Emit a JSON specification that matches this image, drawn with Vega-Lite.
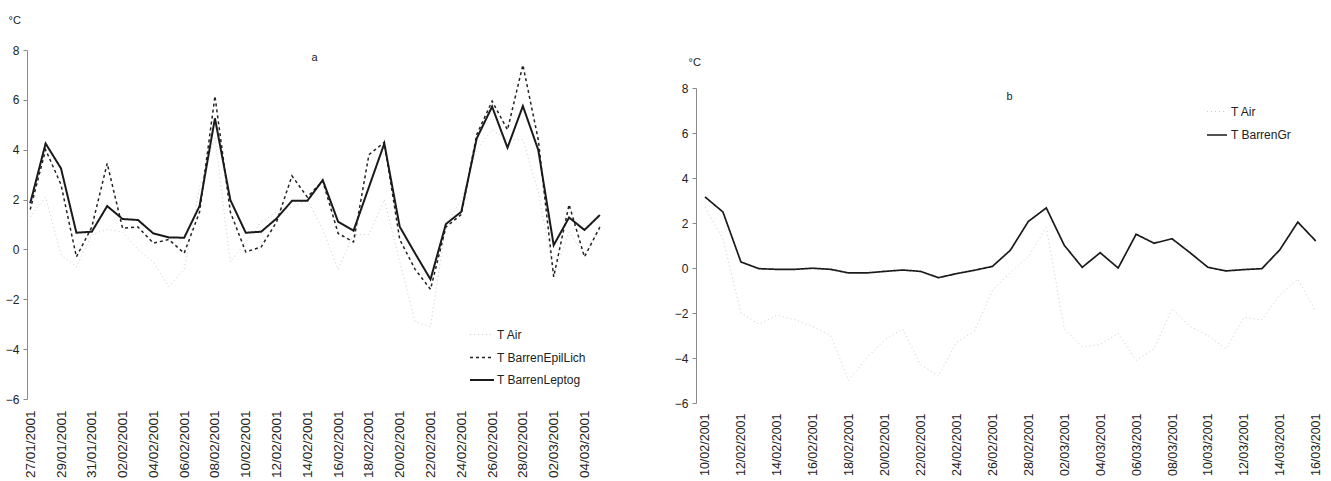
{
  "$schema": "https://vega.github.io/schema/vega-lite/v6.json",
  "background": "white",
  "padding": {"left": 5, "top": 14, "right": 5, "bottom": 0},
  "config": {
    "view": {"stroke": null},
    "font": "Liberation Sans",
    "axis": {"grid": false, "labelFont": "Liberation Sans", "titleFont": "Liberation Sans", "labelColor": "#222", "titleColor": "#222"},
    "legend": {"labelFont": "Liberation Sans", "labelColor": "#222", "labelFontSize": 12}
  },
  "datasets": {
    "a": [
      {"date": "2001-01-27", "T Air": 1.3, "T BarrenEpilLich": 1.6, "T BarrenLeptog": 1.85},
      {"date": "2001-01-28", "T Air": 2.1, "T BarrenEpilLich": 4.0, "T BarrenLeptog": 4.25},
      {"date": "2001-01-29", "T Air": -0.2, "T BarrenEpilLich": 2.6, "T BarrenLeptog": 3.25},
      {"date": "2001-01-30", "T Air": -0.7, "T BarrenEpilLich": -0.3, "T BarrenLeptog": 0.67},
      {"date": "2001-01-31", "T Air": 0.6, "T BarrenEpilLich": 0.9, "T BarrenLeptog": 0.71},
      {"date": "2001-02-01", "T Air": 0.8, "T BarrenEpilLich": 3.45, "T BarrenLeptog": 1.74},
      {"date": "2001-02-02", "T Air": 0.7, "T BarrenEpilLich": 0.85, "T BarrenLeptog": 1.22},
      {"date": "2001-02-03", "T Air": 0.0, "T BarrenEpilLich": 0.9, "T BarrenLeptog": 1.18},
      {"date": "2001-02-04", "T Air": -0.5, "T BarrenEpilLich": 0.25, "T BarrenLeptog": 0.64},
      {"date": "2001-02-05", "T Air": -1.5, "T BarrenEpilLich": 0.4, "T BarrenLeptog": 0.48},
      {"date": "2001-02-06", "T Air": -0.8, "T BarrenEpilLich": -0.15, "T BarrenLeptog": 0.47},
      {"date": "2001-02-07", "T Air": 2.5, "T BarrenEpilLich": 1.5, "T BarrenLeptog": 1.74},
      {"date": "2001-02-08", "T Air": 4.5, "T BarrenEpilLich": 6.15, "T BarrenLeptog": 5.26},
      {"date": "2001-02-09", "T Air": -0.5, "T BarrenEpilLich": 1.5, "T BarrenLeptog": 1.98},
      {"date": "2001-02-10", "T Air": 0.3, "T BarrenEpilLich": -0.1, "T BarrenLeptog": 0.67},
      {"date": "2001-02-11", "T Air": 1.1, "T BarrenEpilLich": 0.1, "T BarrenLeptog": 0.71},
      {"date": "2001-02-12", "T Air": 1.5, "T BarrenEpilLich": 1.1, "T BarrenLeptog": 1.24},
      {"date": "2001-02-13", "T Air": 1.7, "T BarrenEpilLich": 2.95, "T BarrenLeptog": 1.95},
      {"date": "2001-02-14", "T Air": 2.0, "T BarrenEpilLich": 2.1, "T BarrenLeptog": 1.95},
      {"date": "2001-02-15", "T Air": 0.8, "T BarrenEpilLich": 2.75, "T BarrenLeptog": 2.78},
      {"date": "2001-02-16", "T Air": -0.8, "T BarrenEpilLich": 0.64, "T BarrenLeptog": 1.11},
      {"date": "2001-02-17", "T Air": 0.6, "T BarrenEpilLich": 0.3, "T BarrenLeptog": 0.75},
      {"date": "2001-02-18", "T Air": 0.6, "T BarrenEpilLich": 3.8, "T BarrenLeptog": 2.5},
      {"date": "2001-02-19", "T Air": 2.0, "T BarrenEpilLich": 4.3, "T BarrenLeptog": 4.25},
      {"date": "2001-02-20", "T Air": -0.5, "T BarrenEpilLich": 0.4, "T BarrenLeptog": 0.91},
      {"date": "2001-02-21", "T Air": -2.9, "T BarrenEpilLich": -0.8, "T BarrenLeptog": -0.16},
      {"date": "2001-02-22", "T Air": -3.1, "T BarrenEpilLich": -1.6, "T BarrenLeptog": -1.2},
      {"date": "2001-02-23", "T Air": 1.0, "T BarrenEpilLich": 0.9, "T BarrenLeptog": 1.02},
      {"date": "2001-02-24", "T Air": 2.0, "T BarrenEpilLich": 1.4, "T BarrenLeptog": 1.51},
      {"date": "2001-02-25", "T Air": 4.0, "T BarrenEpilLich": 4.6, "T BarrenLeptog": 4.45},
      {"date": "2001-02-26", "T Air": 4.8, "T BarrenEpilLich": 5.95, "T BarrenLeptog": 5.73},
      {"date": "2001-02-27", "T Air": 4.4, "T BarrenEpilLich": 4.8, "T BarrenLeptog": 4.08},
      {"date": "2001-02-28", "T Air": 4.4, "T BarrenEpilLich": 7.4, "T BarrenLeptog": 5.75},
      {"date": "2001-03-01", "T Air": 2.3, "T BarrenEpilLich": 4.4, "T BarrenLeptog": 3.99},
      {"date": "2001-03-02", "T Air": -1.0, "T BarrenEpilLich": -1.1, "T BarrenLeptog": 0.17},
      {"date": "2001-03-03", "T Air": 0.7, "T BarrenEpilLich": 1.8, "T BarrenLeptog": 1.28},
      {"date": "2001-03-04", "T Air": -0.2, "T BarrenEpilLich": -0.3, "T BarrenLeptog": 0.78},
      {"date": "2001-03-05", "T Air": 0.8, "T BarrenEpilLich": 0.9, "T BarrenLeptog": 1.38}
    ],
    "b": [
      {"date": "2001-02-10", "T Air": 2.7, "T BarrenGr": 3.16},
      {"date": "2001-02-11", "T Air": 1.3, "T BarrenGr": 2.49},
      {"date": "2001-02-12", "T Air": -2.0, "T BarrenGr": 0.27},
      {"date": "2001-02-13", "T Air": -2.5, "T BarrenGr": -0.03},
      {"date": "2001-02-14", "T Air": -2.1, "T BarrenGr": -0.06},
      {"date": "2001-02-15", "T Air": -2.3, "T BarrenGr": -0.06},
      {"date": "2001-02-16", "T Air": -2.6, "T BarrenGr": -0.01},
      {"date": "2001-02-17", "T Air": -3.0, "T BarrenGr": -0.06},
      {"date": "2001-02-18", "T Air": -5.0, "T BarrenGr": -0.22},
      {"date": "2001-02-19", "T Air": -4.0, "T BarrenGr": -0.22},
      {"date": "2001-02-20", "T Air": -3.2, "T BarrenGr": -0.15},
      {"date": "2001-02-21", "T Air": -2.7, "T BarrenGr": -0.09},
      {"date": "2001-02-22", "T Air": -4.3, "T BarrenGr": -0.15},
      {"date": "2001-02-23", "T Air": -4.8, "T BarrenGr": -0.43},
      {"date": "2001-02-24", "T Air": -3.3, "T BarrenGr": -0.25},
      {"date": "2001-02-25", "T Air": -2.8, "T BarrenGr": -0.1},
      {"date": "2001-02-26", "T Air": -1.0, "T BarrenGr": 0.07},
      {"date": "2001-02-27", "T Air": -0.2, "T BarrenGr": 0.79},
      {"date": "2001-02-28", "T Air": 0.5, "T BarrenGr": 2.07},
      {"date": "2001-03-01", "T Air": 1.8, "T BarrenGr": 2.67},
      {"date": "2001-03-02", "T Air": -2.7, "T BarrenGr": 1.01},
      {"date": "2001-03-03", "T Air": -3.5, "T BarrenGr": 0.03},
      {"date": "2001-03-04", "T Air": -3.4, "T BarrenGr": 0.68},
      {"date": "2001-03-05", "T Air": -2.9, "T BarrenGr": 0.0},
      {"date": "2001-03-06", "T Air": -4.1, "T BarrenGr": 1.5},
      {"date": "2001-03-07", "T Air": -3.6, "T BarrenGr": 1.1},
      {"date": "2001-03-08", "T Air": -1.8, "T BarrenGr": 1.3},
      {"date": "2001-03-09", "T Air": -2.6, "T BarrenGr": 0.68},
      {"date": "2001-03-10", "T Air": -3.0, "T BarrenGr": 0.03},
      {"date": "2001-03-11", "T Air": -3.6, "T BarrenGr": -0.13},
      {"date": "2001-03-12", "T Air": -2.2, "T BarrenGr": -0.07},
      {"date": "2001-03-13", "T Air": -2.3, "T BarrenGr": -0.03},
      {"date": "2001-03-14", "T Air": -1.2, "T BarrenGr": 0.81},
      {"date": "2001-03-15", "T Air": -0.5, "T BarrenGr": 2.04},
      {"date": "2001-03-16", "T Air": -1.9, "T BarrenGr": 1.2}
    ]
  },
  "hconcat": [
    {
      "width": 578,
      "height": 349,
      "data": {"name": "a"},
      "transform": [{"fold": ["T Air", "T BarrenEpilLich", "T BarrenLeptog"], "as": ["series", "value"]}],
      "mark": {"type": "line"},
      "encoding": {
        "x": {
          "field": "date", "type": "temporal",
          "scale": {"type": "utc", "domain": [{"year": 2001, "month": 1, "date": 26, "hours": 19, "utc": true}, {"year": 2001, "month": 3, "date": 5, "hours": 8, "utc": true}]},
          "axis": {
            "title": "a", "titleX": 287, "titleY": -342, "titleAngle": 0, "titleAlign": "center", "titleBaseline": "middle", "titleFontSize": 11, "titleFontWeight": "normal",
            "format": "%d/%m/%Y", "labelAngle": -90, "labelFontSize": 13.5, "labelPadding": 11, "domain": false, "ticks": false,
            "labelAlign": "right", "labelBaseline": "middle", "labelOverlap": false,
            "values": [
              {"year": 2001, "month": 1, "date": 27, "utc": true}, {"year": 2001, "month": 1, "date": 29, "utc": true}, {"year": 2001, "month": 1, "date": 31, "utc": true},
              {"year": 2001, "month": 2, "date": 2, "utc": true}, {"year": 2001, "month": 2, "date": 4, "utc": true}, {"year": 2001, "month": 2, "date": 6, "utc": true},
              {"year": 2001, "month": 2, "date": 8, "utc": true}, {"year": 2001, "month": 2, "date": 10, "utc": true}, {"year": 2001, "month": 2, "date": 12, "utc": true},
              {"year": 2001, "month": 2, "date": 14, "utc": true}, {"year": 2001, "month": 2, "date": 16, "utc": true}, {"year": 2001, "month": 2, "date": 18, "utc": true},
              {"year": 2001, "month": 2, "date": 20, "utc": true}, {"year": 2001, "month": 2, "date": 22, "utc": true}, {"year": 2001, "month": 2, "date": 24, "utc": true},
              {"year": 2001, "month": 2, "date": 26, "utc": true}, {"year": 2001, "month": 2, "date": 28, "utc": true}, {"year": 2001, "month": 3, "date": 2, "utc": true},
              {"year": 2001, "month": 3, "date": 4, "utc": true}
            ]
          }
        },
        "y": {
          "field": "value", "type": "quantitative",
          "scale": {"domain": [-6, 8], "nice": false, "zero": false},
          "axis": {"title": "°C", "titleAngle": 0, "titleX": -19, "titleY": -30, "titleAlign": "left", "titleBaseline": "middle", "titleFontSize": 11, "titleFontWeight": "normal",
                   "values": [-6, -4, -2, 0, 2, 4, 6, 8], "labelFontSize": 12, "labelPadding": 4, "tickSize": 4, "domainColor": "#8a8a8a", "tickColor": "#8a8a8a"}
        },
        "color": {
          "field": "series", "type": "nominal",
          "scale": {"domain": ["T Air", "T BarrenEpilLich", "T BarrenLeptog"], "range": ["#cccccc", "#222222", "#1a1a1a"]},
          "legend": {"title": null, "orient": "none", "legendX": 442, "legendY": 272, "symbolType": "stroke", "symbolSize": 576, "rowPadding": 3.5, "labelOffset": 2, "labelFontSize": 12}
        },
        "strokeDash": {
          "field": "series", "type": "nominal",
          "scale": {"domain": ["T Air", "T BarrenEpilLich", "T BarrenLeptog"], "range": [[1, 3], [3, 3], [1, 0]]},
          "legend": {"title": null, "orient": "none", "legendX": 442, "legendY": 272, "symbolType": "stroke", "symbolSize": 576, "rowPadding": 3.5, "labelOffset": 2, "labelFontSize": 12}
        },
        "strokeWidth": {
          "field": "series", "type": "nominal",
          "scale": {"domain": ["T Air", "T BarrenEpilLich", "T BarrenLeptog"], "range": [1, 2, 1.7]},
          "legend": {"title": null, "orient": "none", "legendX": 442, "legendY": 272, "symbolType": "stroke", "symbolSize": 576, "rowPadding": 3.5, "labelOffset": 2, "labelFontSize": 12}
        }
      }
    },
    {
      "spacing": 0,
      "vconcat": [
        {
          "width": 10, "height": 5,
          "data": {"values": [{}]},
          "mark": {"type": "point", "opacity": 0},
          "encoding": {}
        },
        {
          "width": 625,
          "height": 315,
          "data": {"name": "b"},
          "transform": [{"fold": ["T Air", "T BarrenGr"], "as": ["series", "value"]}],
          "mark": {"type": "line"},
          "encoding": {
            "x": {
              "field": "date", "type": "temporal",
              "scale": {"type": "utc", "domain": [{"year": 2001, "month": 2, "date": 9, "hours": 12, "utc": true}, {"year": 2001, "month": 3, "date": 16, "hours": 7, "utc": true}]},
              "axis": {
                "title": "b", "titleX": 313, "titleY": -307, "titleAngle": 0, "titleAlign": "center", "titleBaseline": "middle", "titleFontSize": 11, "titleFontWeight": "normal",
                "format": "%d/%m/%Y", "labelAngle": -90, "labelFontSize": 12.5, "labelPadding": 10, "domain": false, "ticks": false,
                "labelAlign": "right", "labelBaseline": "middle", "labelOverlap": false,
                "values": [
                  {"year": 2001, "month": 2, "date": 10, "utc": true}, {"year": 2001, "month": 2, "date": 12, "utc": true}, {"year": 2001, "month": 2, "date": 14, "utc": true},
                  {"year": 2001, "month": 2, "date": 16, "utc": true}, {"year": 2001, "month": 2, "date": 18, "utc": true}, {"year": 2001, "month": 2, "date": 20, "utc": true},
                  {"year": 2001, "month": 2, "date": 22, "utc": true}, {"year": 2001, "month": 2, "date": 24, "utc": true}, {"year": 2001, "month": 2, "date": 26, "utc": true},
                  {"year": 2001, "month": 2, "date": 28, "utc": true}, {"year": 2001, "month": 3, "date": 2, "utc": true}, {"year": 2001, "month": 3, "date": 4, "utc": true},
                  {"year": 2001, "month": 3, "date": 6, "utc": true}, {"year": 2001, "month": 3, "date": 8, "utc": true}, {"year": 2001, "month": 3, "date": 10, "utc": true},
                  {"year": 2001, "month": 3, "date": 12, "utc": true}, {"year": 2001, "month": 3, "date": 14, "utc": true}, {"year": 2001, "month": 3, "date": 16, "utc": true}
                ]
              }
            },
            "y": {
              "field": "value", "type": "quantitative",
              "scale": {"domain": [-6, 8], "nice": false, "zero": false},
              "axis": {"title": "°C", "titleAngle": 0, "titleX": -8, "titleY": -26, "titleAlign": "left", "titleBaseline": "middle", "titleFontSize": 11, "titleFontWeight": "normal",
                       "values": [-6, -4, -2, 0, 2, 4, 6, 8], "labelFontSize": 12, "labelPadding": 4, "tickSize": 4, "domainColor": "#8a8a8a", "tickColor": "#8a8a8a"}
            },
            "color": {
              "field": "series", "type": "nominal",
              "scale": {"domain": ["T Air", "T BarrenGr"], "range": ["#cccccc", "#1a1a1a"]},
              "legend": {"title": null, "orient": "none", "legendX": 510, "legendY": 51, "symbolType": "stroke", "symbolSize": 400, "rowPadding": 6, "labelOffset": 3, "labelFontSize": 12}
            },
            "strokeDash": {
              "field": "series", "type": "nominal",
              "scale": {"domain": ["T Air", "T BarrenGr"], "range": [[1, 3], [1, 0]]},
              "legend": {"title": null, "orient": "none", "legendX": 510, "legendY": 51, "symbolType": "stroke", "symbolSize": 400, "rowPadding": 6, "labelOffset": 3, "labelFontSize": 12}
            },
            "strokeWidth": {
              "field": "series", "type": "nominal",
              "scale": {"domain": ["T Air", "T BarrenGr"], "range": [1, 1.7]},
              "legend": {"title": null, "orient": "none", "legendX": 510, "legendY": 51, "symbolType": "stroke", "symbolSize": 400, "rowPadding": 6, "labelOffset": 3, "labelFontSize": 12}
            }
          }
        }
      ]
    }
  ],
  "spacing": 69,
  "resolve": {"scale": {"color": "independent", "strokeDash": "independent", "strokeWidth": "independent"}}
}
